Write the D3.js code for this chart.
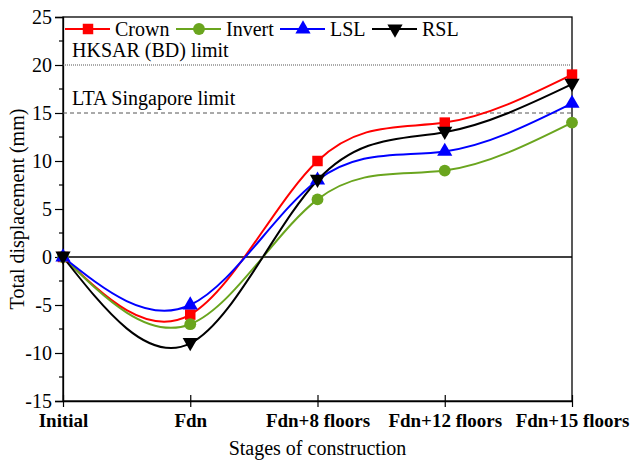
<!DOCTYPE html>
<html>
<head>
<meta charset="utf-8">
<script src="https://cdn.jsdelivr.net/npm/d3@7"></script>
<style>
  body { margin: 0; background: #fff; }
  svg text { font-family: "Liberation Serif", "Times New Roman", serif !important; }
</style>
</head>
<body>
<div id="chart"></div>
<script>
const stages = ["Initial", "Fdn", "Fdn+8 floors", "Fdn+12 floors", "Fdn+15 floors"];
const crown = [0, -6, 10, 14, 19];
const invert = [0, -7, 6, 9, 14];
const lsl = [0, -5, 8, 11, 16];
const rsl = [0, -9, 8, 13, 18];
const yTicks = [-15, -10, -5, 0, 5, 10, 15, 20, 25];
const limits = [
	{ value: 20, label: "HKSAR (BD) limit", dash: "1,1" },
	{ value: 15, label: "LTA Singapore limit", dash: "4,3" }
];

const series = [
	{ name: "Crown", values: crown, color: "#ff0000", symbol: d3.symbolSquare, size: 110, rot: 0 },
	{ name: "Invert", values: invert, color: "#6aa51e", symbol: d3.symbolCircle, size: 110, rot: 0 },
	{ name: "LSL", values: lsl, color: "#0000ff", symbol: d3.symbolTriangle, size: 100, rot: 0 },
	{ name: "RSL", values: rsl, color: "#000000", symbol: d3.symbolTriangle, size: 100, rot: 180 }
];

const FONT = "Liberation Serif";
const width = 631;
const height = 461;
const margin = { top: 17, right: 59, bottom: 60, left: 63 };

const svg = d3.select("#chart")
	.append("svg")
	.attr("width", width)
	.attr("height", height);

const x = d3.scalePoint()
	.domain(stages)
	.range([margin.left, width - margin.right]);

const y = d3.scaleLinear()
	.domain([-15, 25])
	.range([height - margin.bottom, margin.top]);

// frame
svg.append("rect")
	.attr("x", margin.left)
	.attr("y", margin.top)
	.attr("width", x.range()[1] - margin.left)
	.attr("height", y(-15) - margin.top)
	.attr("fill", "none")
	.attr("stroke", "#000")
	.attr("stroke-width", 1.3);

// y axis with minor ticks
const yAxis = svg.append("g")
	.attr("transform", `translate(${margin.left},0)`)
	.call(d3.axisLeft(y).tickValues(yTicks).tickSize(8).tickPadding(3));
yAxis.select(".domain").attr("stroke-width", 1.3);
yAxis.selectAll(".tick line").attr("stroke-width", 1.2);
yAxis.selectAll("text")
	.attr("font-size", 20)
	.text(d => d < 0 ? "-" + Math.abs(d) : d);

svg.append("g")
	.selectAll("line")
	.data(d3.range(-12.5, 25, 5))
	.enter()
	.append("line")
	.attr("x1", margin.left - 4)
	.attr("x2", margin.left)
	.attr("y1", d => y(d))
	.attr("y2", d => y(d))
	.attr("stroke", "#000")
	.attr("stroke-width", 1.2);

// x axis, ticks cross the line
const xAxis = svg.append("g")
	.attr("transform", `translate(0,${y(-15)})`)
	.call(d3.axisBottom(x).tickSizeInner(6).tickSizeOuter(0).tickPadding(7));
xAxis.select(".domain").attr("stroke-width", 1.3);
xAxis.selectAll(".tick line").attr("y1", -6).attr("y2", 6).attr("stroke-width", 1.2);
xAxis.selectAll("text")
	.attr("font-size", 19)
	.attr("font-weight", "bold");

// zero line
svg.append("line")
	.attr("x1", margin.left)
	.attr("x2", x.range()[1])
	.attr("y1", y(0))
	.attr("y2", y(0))
	.attr("stroke", "#000")
	.attr("stroke-width", 1.5);

// limit lines
limits.forEach(l => {
	svg.append("line")
		.attr("x1", margin.left)
		.attr("x2", x.range()[1])
		.attr("y1", y(l.value))
		.attr("y2", y(l.value))
		.attr("stroke", "#555")
		.attr("stroke-width", 1)
		.attr("stroke-dasharray", l.dash);
	svg.append("text")
		.attr("x", margin.left + 9)
		.attr("y", y(l.value) - 8.5)
		.attr("font-size", 20)
		.text(l.label);
});

// curves
const line = d3.line()
	.x((d, i) => x(stages[i]))
	.y(d => y(d))
	.curve(d3.curveNatural);

series.forEach(s => {
	svg.append("path")
		.datum(s.values)
		.attr("d", line)
		.attr("fill", "none")
		.attr("stroke", s.color)
		.attr("stroke-width", 2);
});

series.forEach(s => {
	svg.append("g")
		.selectAll("path")
		.data(s.values)
		.enter()
		.append("path")
		.attr("d", d3.symbol().type(s.symbol).size(s.size))
		.attr("transform", (d, i) => `translate(${x(stages[i])},${y(d) + (s.rot ? -1 : 0)}) rotate(${s.rot})`)
		.attr("fill", s.color);
});

// legend
const legendX = [65, 176, 280, 372];
const legend = svg.append("g");
series.forEach((s, i) => {
	const lx = legendX[i];
	const ly = 29;
	legend.append("line")
		.attr("x1", lx)
		.attr("x2", lx + 45)
		.attr("y1", ly)
		.attr("y2", ly)
		.attr("stroke", s.color)
		.attr("stroke-width", 2);
	legend.append("path")
		.attr("d", d3.symbol().type(s.symbol).size(s.size))
		.attr("transform", `translate(${lx + 23},${ly}) rotate(${s.rot})`)
		.attr("fill", s.color);
	legend.append("text")
		.attr("x", lx + 50)
		.attr("y", ly + 7)
		.attr("font-size", 20)
		.text(s.name);
});

// axis titles
svg.append("text")
	.attr("x", (margin.left + x.range()[1]) / 2)
	.attr("y", 455)
	.attr("text-anchor", "middle")
	.attr("font-size", 20)
	.text("Stages of construction");

svg.append("text")
	.attr("transform", `translate(24,${(margin.top + y(-15)) / 2}) rotate(-90)`)
	.attr("text-anchor", "middle")
	.attr("font-size", 20)
	.text("Total displacement (mm)");

// serif everywhere
svg.selectAll("text")
	.attr("font-family", FONT)
	.style("font-family", "'Liberation Serif', 'Times New Roman', serif", "important")
	.attr("fill", "#000");
</script>
</body>
</html>
